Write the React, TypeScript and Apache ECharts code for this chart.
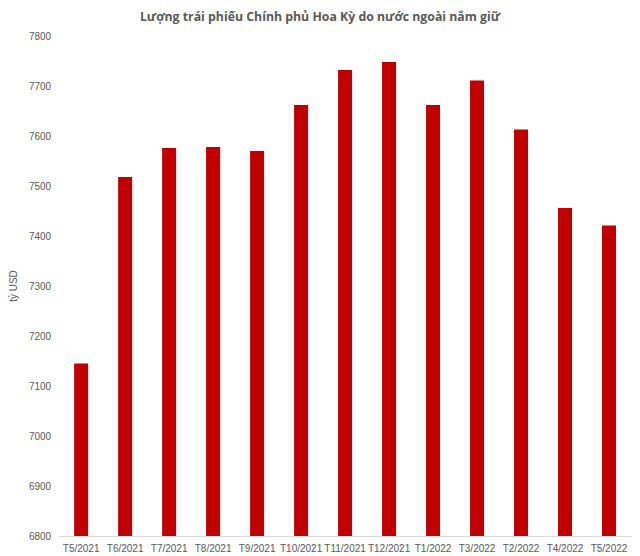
import React, { useEffect, useRef } from "react";
import * as echarts from "echarts";

const categories = [
  "T5/2021", "T6/2021", "T7/2021", "T8/2021", "T9/2021", "T10/2021", "T11/2021",
  "T12/2021", "T1/2022", "T3/2022", "T2/2022", "T4/2022", "T5/2022",
];
const values = [7145, 7518, 7576, 7578, 7570, 7662, 7732, 7748, 7662, 7711, 7613, 7456, 7421];
const title = "Lượng trái phiếu Chính phủ Hoa Kỳ do nước ngoài nắm giữ";
const yName = "tỷ USD";

export default function App() {
  const ref = useRef<HTMLDivElement>(null);
  useEffect(() => {
    const chart = echarts.init(ref.current!, undefined, { renderer: "svg" });
    chart.setOption({
      animation: false,
      backgroundColor: "#ffffff",
      title: {
        text: title,
        left: "center",
        top: 5,
        textStyle: { fontFamily: "Open Sans", fontSize: 12.3, fontWeight: "bold", color: "#595959" },
      },
      grid: { left: 55, right: 9, top: 36, bottom: 20, containLabel: false },
      xAxis: {
        type: "category",
        data: categories,
        axisLine: { show: true, lineStyle: { color: "#d9d9d9", width: 1 } },
        axisTick: { show: false },
        axisLabel: { color: "#595959", fontSize: 10, fontFamily: "Liberation Sans", margin: 7, interval: 0 },
      },
      yAxis: {
        type: "value",
        min: 6800,
        max: 7800,
        interval: 100,
        name: yName,
        nameLocation: "middle",
        nameGap: 30,
        nameTextStyle: { color: "#595959", fontSize: 10, fontFamily: "Liberation Sans" },
        axisLine: { show: false },
        axisTick: { show: false },
        splitLine: { show: false },
        axisLabel: {
          color: "#595959",
          fontSize: 10,
          fontFamily: "Liberation Sans",
          margin: 8,
          formatter: (v: number) => String(v),
        },
      },
      series: [
        {
          type: "bar",
          data: values,
          barWidth: 14,
          itemStyle: { color: "#c00000" },
        },
      ],
    });
    return () => chart.dispose();
  }, []);
  return (
    <div
      ref={ref}
      style={{ position: "fixed", left: 0, top: 0, width: 640, height: 556 }}
    />
  );
}
